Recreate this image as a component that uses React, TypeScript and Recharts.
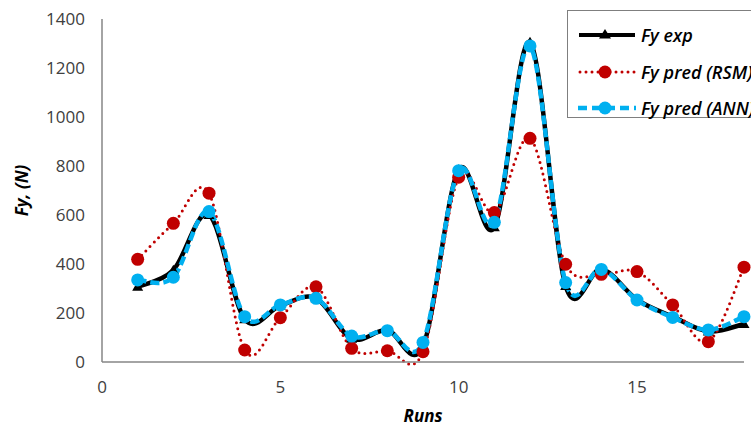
import React from 'react';
import { LineChart, Line, XAxis, YAxis } from 'recharts';

const runs = [1, 2, 3, 4, 5, 6, 7, 8, 9, 10, 11, 12, 13, 14, 15, 16, 17, 18];
const fyExp = [307, 375, 600, 175, 230, 260, 95, 130, 65, 785, 550, 1305, 310, 380, 255, 185, 125, 155];
const fyRSM = [419, 566, 689, 49, 181, 307, 56, 46, 42, 754, 610, 913, 399, 358, 369, 233, 83, 387];
const fyANN = [335, 346, 614, 185, 233, 260, 106, 128, 80, 781, 570, 1290, 324, 378, 253, 182, 131, 185];
const xTicks = [0, 5, 10, 15];
const yTicks = [0, 200, 400, 600, 800, 1000, 1200, 1400];

const data = runs.map((r, i) => ({ run: r, exp: fyExp[i], rsm: fyRSM[i], ann: fyANN[i] }));

const FONT = '"Open Sans", "Noto Sans", sans-serif';
const RED = '#C00000';
const BLUE = '#00B0F0';

// Excel-like smoothed line (Catmull-Rom style Bezier)
const excelCurve: any = (context: any) => {
  let pts: number[][] = [];
  return {
    areaStart() {},
    areaEnd() {},
    lineStart() { pts = []; },
    point(x: number, y: number) { pts.push([+x, +y]); },
    lineEnd() {
      if (!pts.length) return;
      context.moveTo(pts[0][0], pts[0][1]);
      for (let i = 0; i < pts.length - 1; i++) {
        const p0 = pts[i - 1] || pts[i];
        const p1 = pts[i];
        const p2 = pts[i + 1];
        const p3 = pts[i + 2] || p2;
        const c1x = p1[0] + (p2[0] - p0[0]) / 6;
        const c1y = p1[1] + (p2[1] - p0[1]) / 6;
        const c2x = p2[0] - (p3[0] - p1[0]) / 6;
        const c2y = p2[1] - (p3[1] - p1[1]) / 6;
        context.bezierCurveTo(c1x, c1y, c2x, c2y, p2[0], p2[1]);
      }
    },
  };
};

const Triangle = (props: any) => {
  const { cx, cy } = props;
  if (cx == null || cy == null) return null;
  return <polygon points={`${cx},${cy - 5.5} ${cx - 5.5},${cy + 4} ${cx + 5.5},${cy + 4}`} fill="#000" />;
};
const RedDot = (props: any) => {
  const { cx, cy } = props;
  if (cx == null || cy == null) return null;
  return <circle cx={cx} cy={cy} r={6.5} fill={RED} />;
};
const BlueDot = (props: any) => {
  const { cx, cy } = props;
  if (cx == null || cy == null) return null;
  return <circle cx={cx} cy={cy} r={6.5} fill={BLUE} />;
};

const legendItems = [
  { key: 'exp', name: 'Fy exp' },
  { key: 'rsm', name: 'Fy pred (RSM)' },
  { key: 'ann', name: 'Fy pred (ANN)' },
];

const LegendSample = ({ k }: { k: string }) => (
  <svg width={60} height={20} style={{ display: 'block' }}>
    {k === 'exp' && (
      <g>
        <line x1={2} y1={10} x2={58} y2={10} stroke="#000" strokeWidth={4} />
        <polygon points="28,4 22,13.5 34,13.5" fill="#000" />
      </g>
    )}
    {k === 'rsm' && (
      <g>
        <line x1={3} y1={10} x2={58} y2={10} stroke={RED} strokeWidth={3} strokeDasharray="0 6" strokeLinecap="round" />
        <circle cx={28} cy={10} r={6.5} fill={RED} />
      </g>
    )}
    {k === 'ann' && (
      <g>
        <line x1={1} y1={10} x2={59} y2={10} stroke={BLUE} strokeWidth={4.5} strokeDasharray="9 5" />
        <circle cx={28} cy={10} r={6.5} fill={BLUE} />
      </g>
    )}
  </svg>
);

const LegendBox = () => (
  <div
    style={{
      position: 'absolute',
      left: 567,
      top: 10,
      border: '1.5px solid #7f7f7f',
      width: 200,
      height: 108,
      boxSizing: 'border-box',
      background: '#fff',
      paddingTop: 6,
      paddingLeft: 9,
    }}
  >
    {legendItems.map((it) => (
      <div key={it.key} style={{ display: 'flex', alignItems: 'center', height: 36.5, whiteSpace: 'nowrap' }}>
        <LegendSample k={it.key} />
        <span
          style={{
            fontFamily: FONT,
            fontStyle: 'italic',
            fontWeight: 600,
            fontSize: 18,
            color: '#000',
            marginLeft: 4,
            lineHeight: '20px',
          }}
        >
          {it.name}
        </span>
      </div>
    ))}
  </div>
);

const XTitle = (props: any) => {
  const vb = props.viewBox || {};
  return (
    <text
      x={vb.x + vb.width / 2}
      y={vb.y + 60}
      textAnchor="middle"
      fontFamily={FONT}
      fontStyle="italic"
      fontWeight={700}
      fontSize={17}
      fill="#000"
    >
      Runs
    </text>
  );
};

const YTitle = (props: any) => {
  const vb = props.viewBox || {};
  const cy = vb.y + vb.height / 2;
  return (
    <text
      x={28}
      y={cy}
      transform={`rotate(-90, 28, ${cy})`}
      textAnchor="middle"
      fontFamily={FONT}
      fontStyle="italic"
      fontWeight={700}
      fontSize={17}
      fill="#000"
    >
      Fy, (N)
    </text>
  );
};

export default function App() {
  return (
    <div style={{ position: 'absolute', left: 0, top: 0, width: 751, height: 425, overflow: 'hidden', background: '#fff' }}>
      <LineChart width={751} height={425} data={data} margin={{ top: 19, right: 7, bottom: 2, left: 0 }}>
        <XAxis
          dataKey="run"
          type="number"
          domain={[0, 18]}
          ticks={xTicks}
          interval={0}
          height={61}
          tickSize={0}
          tickMargin={19}
          axisLine={{ stroke: '#868686', strokeWidth: 1.5 }}
          tickLine={false}
          tick={{ fontFamily: FONT, fontSize: 17, fill: '#404040' }}
          label={<XTitle />}
        />
        <YAxis
          type="number"
          domain={[0, 1400]}
          ticks={yTicks}
          interval={0}
          width={102}
          tickSize={0}
          tickMargin={17}
          axisLine={{ stroke: '#868686', strokeWidth: 1.5 }}
          tickLine={false}
          tick={{ fontFamily: FONT, fontSize: 17, fill: '#404040' }}
          label={<YTitle />}
        />
        <Line
          dataKey="exp"
          name="Fy exp"
          type={excelCurve}
          stroke="#000"
          strokeWidth={4.5}
          dot={<Triangle />}
          activeDot={false}
          isAnimationActive={false}
        />
        <Line
          dataKey="rsm"
          name="Fy pred (RSM)"
          type={excelCurve}
          stroke={RED}
          strokeWidth={3}
          strokeDasharray="0 6"
          strokeLinecap="round"
          dot={<RedDot />}
          activeDot={false}
          isAnimationActive={false}
        />
        <Line
          dataKey="ann"
          name="Fy pred (ANN)"
          type={excelCurve}
          stroke={BLUE}
          strokeWidth={4.5}
          strokeDasharray="9 4"
          dot={<BlueDot />}
          activeDot={false}
          isAnimationActive={false}
        />
      </LineChart>
      <LegendBox />
    </div>
  );
}
